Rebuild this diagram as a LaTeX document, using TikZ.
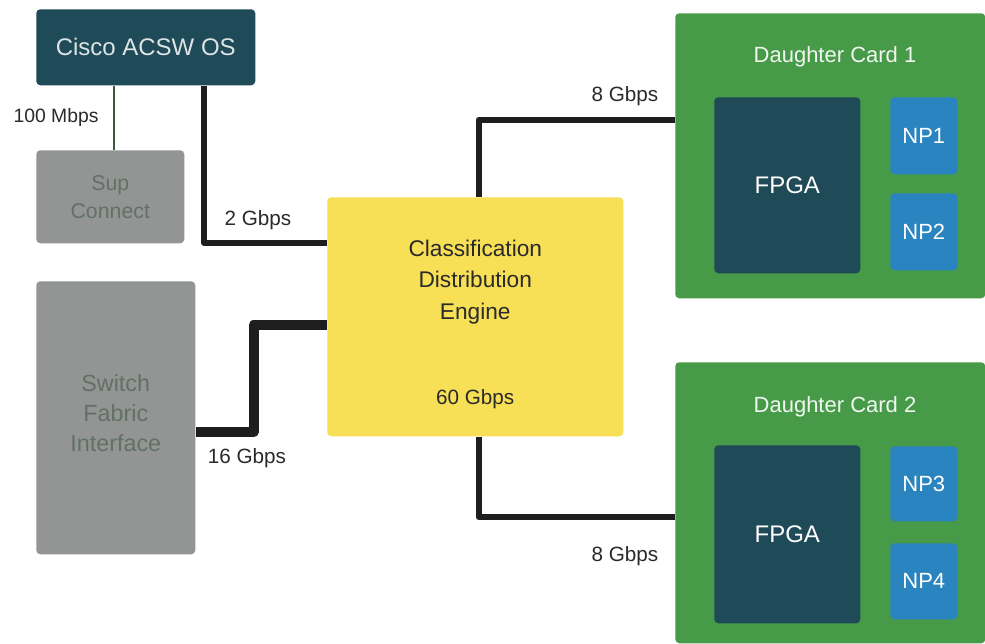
\documentclass[tikz,border=0pt]{standalone}
\usepackage{fontspec}
\setmainfont{Liberation Sans}
\usetikzlibrary{calc}

\definecolor{tealbox}{HTML}{1F4A57}
\definecolor{graybox}{HTML}{929594}
\definecolor{graytext}{HTML}{637066}
\definecolor{enginebox}{HTML}{F7DF56}
\definecolor{cardbox}{HTML}{479A48}
\definecolor{npbox}{HTML}{2A84BF}
\definecolor{linkline}{HTML}{1E1E1E}
\definecolor{labeltext}{HTML}{2A2A2A}
\definecolor{mgmtline}{HTML}{3A5A40}

\tikzset{
  blockbox/.style={rectangle, rounded corners=3pt, anchor=north west, inner sep=0pt, align=center},
  labeltxt/.style={text=labeltext, font=\fontsize{15.5}{18}\selectfont, inner sep=0pt},
  link/.style={draw=linkline, line join=round, line cap=butt},
}

\begin{document}
\begin{tikzpicture}[x=0.75pt, y=-0.75pt]
  \useasboundingbox[fill=white] (0,0) rectangle (985,643);

  % control plane
  \node[blockbox, fill=tealbox, minimum width=219*0.75pt, minimum height=76*0.75pt,
        text=white!85!tealbox, font=\fontsize{18}{22}\selectfont] (cisco) at (36,9) {Cisco ACSW OS};
  \node[blockbox, fill=graybox, minimum width=148*0.75pt, minimum height=93*0.75pt,
        text=graytext, font=\fontsize{16}{21}\selectfont] (sup) at (36,150) {Sup\\Connect};
  \node[blockbox, fill=graybox, minimum width=159*0.75pt, minimum height=273*0.75pt] (sfi) at (36,281) {};
  \node[text=graytext, font=\fontsize{17.5}{22.5}\selectfont, align=center, inner sep=0pt]
       (sfititle) at ($(sfi.north)+(0,132)$) {Switch\\Fabric\\Interface};

  % classification / distribution engine
  \node[blockbox, fill=enginebox, minimum width=296*0.75pt, minimum height=239*0.75pt] (cde) at (327,197) {};
  \node[text=labeltext, font=\fontsize{17}{23.5}\selectfont, align=center, inner sep=0pt]
       (cdetitle) at ($(cde.north)+(0,85)$) {Classification\\Distribution\\Engine};
  \node[text=labeltext, font=\fontsize{15.5}{18}\selectfont, inner sep=0pt]
       (cderate) at ($(cde.north)+(0,202)$) {60 Gbps};

  % daughter cards
  \node[blockbox, fill=cardbox, minimum width=310*0.75pt, minimum height=285*0.75pt] (dc1) at (675,13) {};
  \node[blockbox, fill=tealbox, minimum width=146*0.75pt, minimum height=176*0.75pt,
        text=white, font=\fontsize{18}{22}\selectfont] (fpga1) at (714,97) {FPGA};
  \node[blockbox, fill=npbox, minimum width=67*0.75pt, minimum height=77*0.75pt,
        text=white, font=\fontsize{16.5}{20}\selectfont] (np1) at (890,97) {NP1};
  \node[blockbox, fill=npbox, minimum width=67*0.75pt, minimum height=77*0.75pt,
        text=white, font=\fontsize{16.5}{20}\selectfont] (np2) at (890,193) {NP2};
  \node[text=white!92!cardbox, font=\fontsize{16.5}{20}\selectfont, inner sep=0pt]
       (dc1title) at (835,57) {Daughter Card 1};

  \node[blockbox, fill=cardbox, minimum width=310*0.75pt, minimum height=281*0.75pt] (dc2) at (675,362) {};
  \node[blockbox, fill=tealbox, minimum width=146*0.75pt, minimum height=178*0.75pt,
        text=white, font=\fontsize{18}{22}\selectfont] (fpga2) at (714,445) {FPGA};
  \node[blockbox, fill=npbox, minimum width=67*0.75pt, minimum height=75*0.75pt,
        text=white, font=\fontsize{16.5}{20}\selectfont] (np3) at (890,446) {NP3};
  \node[blockbox, fill=npbox, minimum width=67*0.75pt, minimum height=76*0.75pt,
        text=white, font=\fontsize{16.5}{20}\selectfont] (np4) at (890,543) {NP4};
  \node[text=white!92!cardbox, font=\fontsize{16.5}{20}\selectfont, inner sep=0pt]
       (dc2title) at (835,407) {Daughter Card 2};

  % links
  \draw[draw=mgmtline, line width=1.5pt]
       ($(cisco.south west)+(78,0)$) -- ($(sup.north west)+(78,0)$);
  \draw[link, line width=3.8pt]
       ($(cisco.south west)+(168,0)$) |- ($(cde.north west)+(0,46)$);
  \draw[link, line width=7.5pt]
       ($(sfi.north east)+(0,151)$) -- ++(58,0) |- ($(cde.north west)+(0,128)$);
  \draw[link, line width=5.2pt]
       ($(cde.north west)+(152,0)$) |- ($(dc1.north west)+(0,107)$);
  \draw[link, line width=5.2pt]
       ($(cde.south west)+(152,0)$) |- ($(dc2.north west)+(0,155)$);

  % link rates
  \node[labeltxt, font=\fontsize{14.5}{18}\selectfont] (r100) at (56,117) {100 Mbps};
  \node[labeltxt] (r2) at (258,220) {2 Gbps};
  \node[labeltxt] (r16) at (247,458) {16 Gbps};
  \node[labeltxt] (r8a) at (625,96) {8 Gbps};
  \node[labeltxt] (r8b) at (625,556) {8 Gbps};
\end{tikzpicture}
\end{document}
